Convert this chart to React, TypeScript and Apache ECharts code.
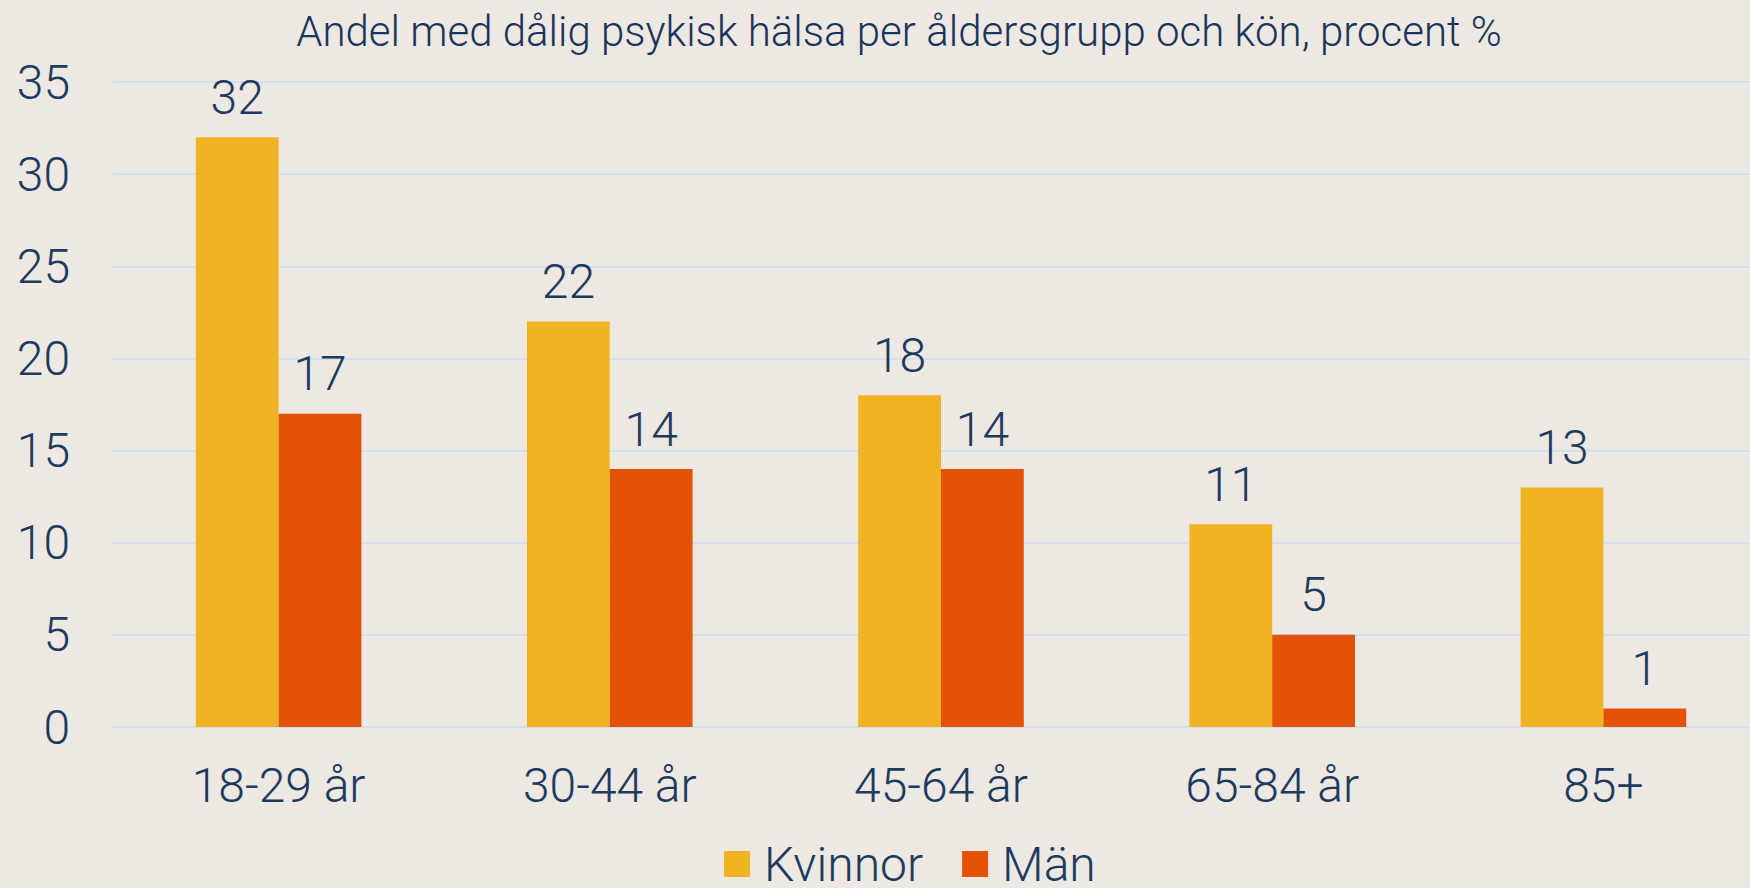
import React, { useEffect, useRef } from "react";
import * as echarts from "echarts";

const categories = ["18-29 år", "30-44 år", "45-64 år", "65-84 år", "85+"];
const kvinnor = [32, 22, 18, 11, 13];
const man = [17, 14, 14, 5, 1];
const yTicks = { min: 0, max: 35, interval: 5 };
const titleText = "Andel med dålig psykisk hälsa per åldersgrupp och kön, procent %";

const NAVY = "#1d3a5f";
const FONT = "Roboto";
const FS = 48;

export default function App() {
  const ref = useRef<HTMLDivElement>(null);
  useEffect(() => {
    if (!ref.current) return;
    const chart = echarts.init(ref.current, undefined, { renderer: "svg" });
    const label = {
      show: true,
      position: "top",
      distance: 16,
      color: NAVY,
      fontFamily: FONT,
      fontWeight: 300,
      fontSize: FS,
    };
    chart.setOption({
      animation: false,
      backgroundColor: "#ede8e1",
      textStyle: { fontFamily: FONT },
      title: {
        text: titleText,
        left: 894,
        textAlign: "center",
        top: 5,
        textStyle: { color: "#1a355c", fontFamily: FONT, fontWeight: 300, fontSize: 42 },
      },
      legend: {
        left: 724,
        top: 840,
        padding: 0,
        itemWidth: 26,
        itemHeight: 26,
        itemGap: 39,
        icon: "rect",
        textStyle: {
          color: NAVY,
          fontFamily: FONT,
          fontWeight: 300,
          fontSize: FS,
          lineHeight: 46,
          padding: [0, 0, 0, 9],
        },
      },
      grid: { left: 113, top: 82, width: 1656, height: 645, containLabel: false },
      xAxis: {
        type: "category",
        data: categories,
        axisLine: { show: false },
        axisTick: { show: false },
        axisLabel: { color: NAVY, fontFamily: FONT, fontWeight: 300, fontSize: FS, margin: 34 },
      },
      yAxis: {
        type: "value",
        min: yTicks.min,
        max: yTicks.max,
        interval: yTicks.interval,
        axisLine: { show: false },
        axisTick: { show: false },
        splitLine: { lineStyle: { color: "#d2dfef", width: 2 } },
        axisLabel: { color: NAVY, fontFamily: FONT, fontWeight: 300, fontSize: FS, margin: 43 },
      },
      series: [
        {
          name: "Kvinnor",
          type: "bar",
          data: kvinnor,
          barGap: "0%",
          barCategoryGap: "50%",
          itemStyle: { color: "#f0b324" },
          label,
        },
        {
          name: "Män",
          type: "bar",
          data: man,
          itemStyle: { color: "#e35205" },
          label,
        },
      ],
    });
    return () => chart.dispose();
  }, []);
  return (
    <div
      style={{ position: "fixed", left: 0, top: 0, width: 1750, height: 888, overflow: "hidden", background: "#ede8e1" }}
    >
      <div ref={ref} style={{ width: 1800, height: 888 }} />
    </div>
  );
}
